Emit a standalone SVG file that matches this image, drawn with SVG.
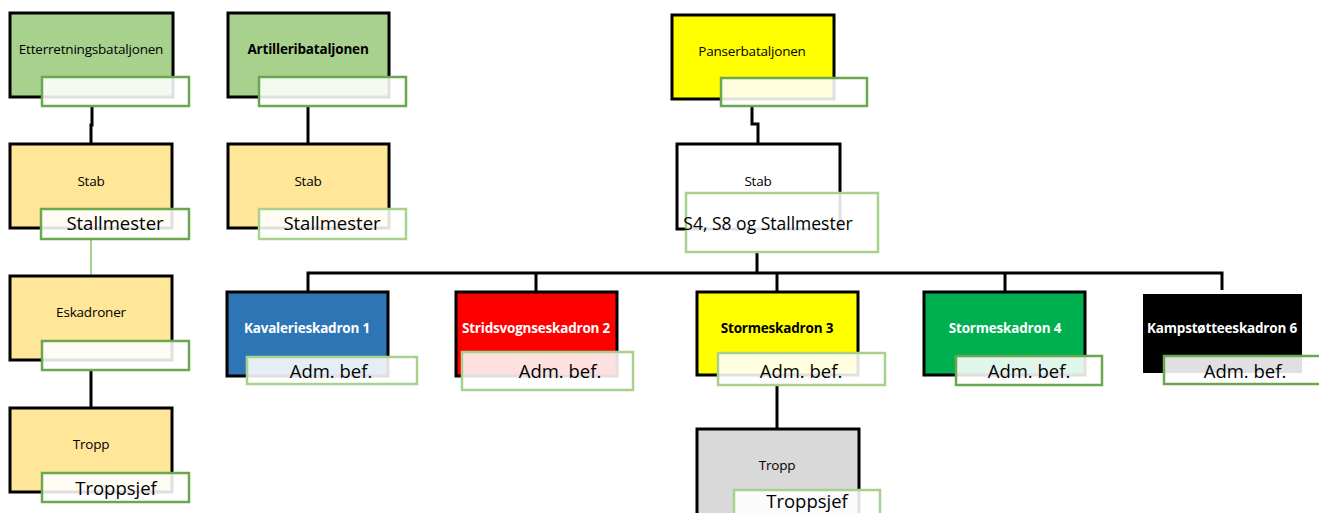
<svg xmlns="http://www.w3.org/2000/svg" width="1319" height="513" viewBox="0 0 1319 513">
<style>
.box{stroke:#000;stroke-width:3}
.lbl{fill:#fff;fill-opacity:0.88;stroke-width:2.5}
.dk{stroke:#6AA84F}
.lt{stroke:#A9D18E}
.t{font-family:"Open Sans","Liberation Sans",sans-serif;font-size:13.5px;text-anchor:middle;letter-spacing:-0.2px}
.b{font-weight:bold}
.w{fill:#fff}
.l{font-family:"Open Sans","Liberation Sans",sans-serif;font-size:18.5px;text-anchor:middle;fill:#000}
.c{fill:none;stroke:#000;stroke-width:3}
</style>
<rect width="1319" height="513" fill="#fff"/>
<g id="connectors">
<polyline class="c" points="92,106 92,125 91,125 91,144"/>
<line x1="91" y1="239" x2="91" y2="276" stroke="#A9D18E" stroke-width="2"/>
<line class="c" x1="91" y1="370" x2="91" y2="408"/>
<line class="c" x1="308" y1="106" x2="308" y2="144"/>
<polyline class="c" points="752,106 752,124 758,124 758,144"/>
<line class="c" x1="757" y1="252" x2="757" y2="273"/>
<polyline class="c" points="308,292 308,273 1222,273 1222,290"/>
<line class="c" x1="536" y1="273" x2="536" y2="292"/>
<line class="c" x1="777" y1="273" x2="777" y2="292"/>
<line class="c" x1="1005" y1="273" x2="1005" y2="292"/>
<line class="c" x1="777" y1="385" x2="777" y2="429"/>
</g>
<g id="etterretning">
<rect class="box" x="10" y="13" width="163" height="84" fill="#A9D18E"/>
<text class="t" x="91" y="54">Etterretningsbataljonen</text>
<rect class="lbl dk" x="42" y="77" width="147" height="29"/>
</g>
<g id="stab1">
<rect class="box" x="10" y="144" width="162" height="84" fill="#FFE699"/>
<text class="t" x="91" y="186">Stab</text>
<rect class="lbl dk" x="41" y="209" width="148" height="30"/>
<text class="l" x="115" y="230">Stallmester</text>
</g>
<g id="eskadroner">
<rect class="box" x="10" y="276" width="162" height="84" fill="#FFE699"/>
<text class="t" x="91" y="317">Eskadroner</text>
<rect class="lbl dk" x="42" y="341" width="147" height="29"/>
</g>
<g id="tropp1">
<rect class="box" x="10" y="408" width="162" height="84" fill="#FFE699"/>
<text class="t" x="91" y="449">Tropp</text>
<rect class="lbl dk" x="42" y="473" width="147" height="29"/>
<text class="l" x="116" y="495">Troppsjef</text>
</g>
<g id="artilleri">
<rect class="box" x="228" y="13" width="161" height="84" fill="#A9D18E"/>
<text class="t b" x="308" y="54">Artilleribataljonen</text>
<rect class="lbl dk" x="259" y="77" width="147" height="29"/>
</g>
<g id="stab2">
<rect class="box" x="228" y="144" width="161" height="84" fill="#FFE699"/>
<text class="t" x="308" y="186">Stab</text>
<rect class="lbl lt" x="259" y="209" width="147" height="30"/>
<text class="l" x="332" y="230">Stallmester</text>
</g>
<g id="panser">
<rect class="box" x="672" y="15" width="162" height="84" fill="#FFFF00"/>
<text class="t" x="752" y="56">Panserbataljonen</text>
<rect class="lbl dk" x="721" y="78" width="146" height="28"/>
</g>
<g id="stab3">
<rect class="box" x="677" y="144" width="163" height="85" fill="#fff"/>
<text class="t" x="758" y="186">Stab</text>
<rect class="lbl lt" x="686" y="193" width="192" height="59"/>
<text class="l" x="768" y="230" style="font-size:17.5px">S4, S8 og Stallmester</text>
</g>
<g id="kav1">
<rect class="box" x="227" y="292" width="161" height="84" fill="#2E75B6"/>
<text class="t b w" x="307" y="333">Kavalerieskadron 1</text>
<rect class="lbl lt" x="247" y="357" width="170" height="27"/>
<text class="l" x="331" y="378">Adm. bef.</text>
</g>
<g id="strv2">
<rect class="box" x="456" y="292" width="161" height="84" fill="#FF0000"/>
<text class="t b w" x="536" y="333">Stridsvognseskadron 2</text>
<rect class="lbl lt" x="462" y="352" width="171" height="38"/>
<text class="l" x="560" y="378">Adm. bef.</text>
</g>
<g id="storm3">
<rect class="box" x="697" y="292" width="161" height="83" fill="#FFFF00"/>
<text class="t b" x="777" y="333">Stormeskadron 3</text>
<rect class="lbl lt" x="718" y="353" width="167" height="32"/>
<text class="l" x="801" y="378">Adm. bef.</text>
</g>
<g id="storm4">
<rect class="box" x="924" y="292" width="161" height="83" fill="#00B050"/>
<text class="t b w" x="1005" y="333">Stormeskadron 4</text>
<rect class="lbl dk" x="956" y="356" width="146" height="29"/>
<text class="l" x="1029" y="378">Adm. bef.</text>
</g>
<g id="kamp6">
<rect x="1143" y="294" width="159" height="79" fill="#000"/>
<text class="t b w" x="1222" y="333">Kampstøtteeskadron 6</text>
<rect class="lbl dk" x="1164" y="356" width="160" height="28"/>
<text class="l" x="1245" y="378">Adm. bef.</text>
</g>
<g id="tropp3">
<rect class="box" x="697" y="429" width="162" height="90" fill="#D9D9D9"/>
<text class="t" x="777" y="470">Tropp</text>
<rect class="lbl lt" x="734" y="490" width="146" height="30"/>
<text class="l" x="807" y="508">Troppsjef</text>
</g>
</svg>
